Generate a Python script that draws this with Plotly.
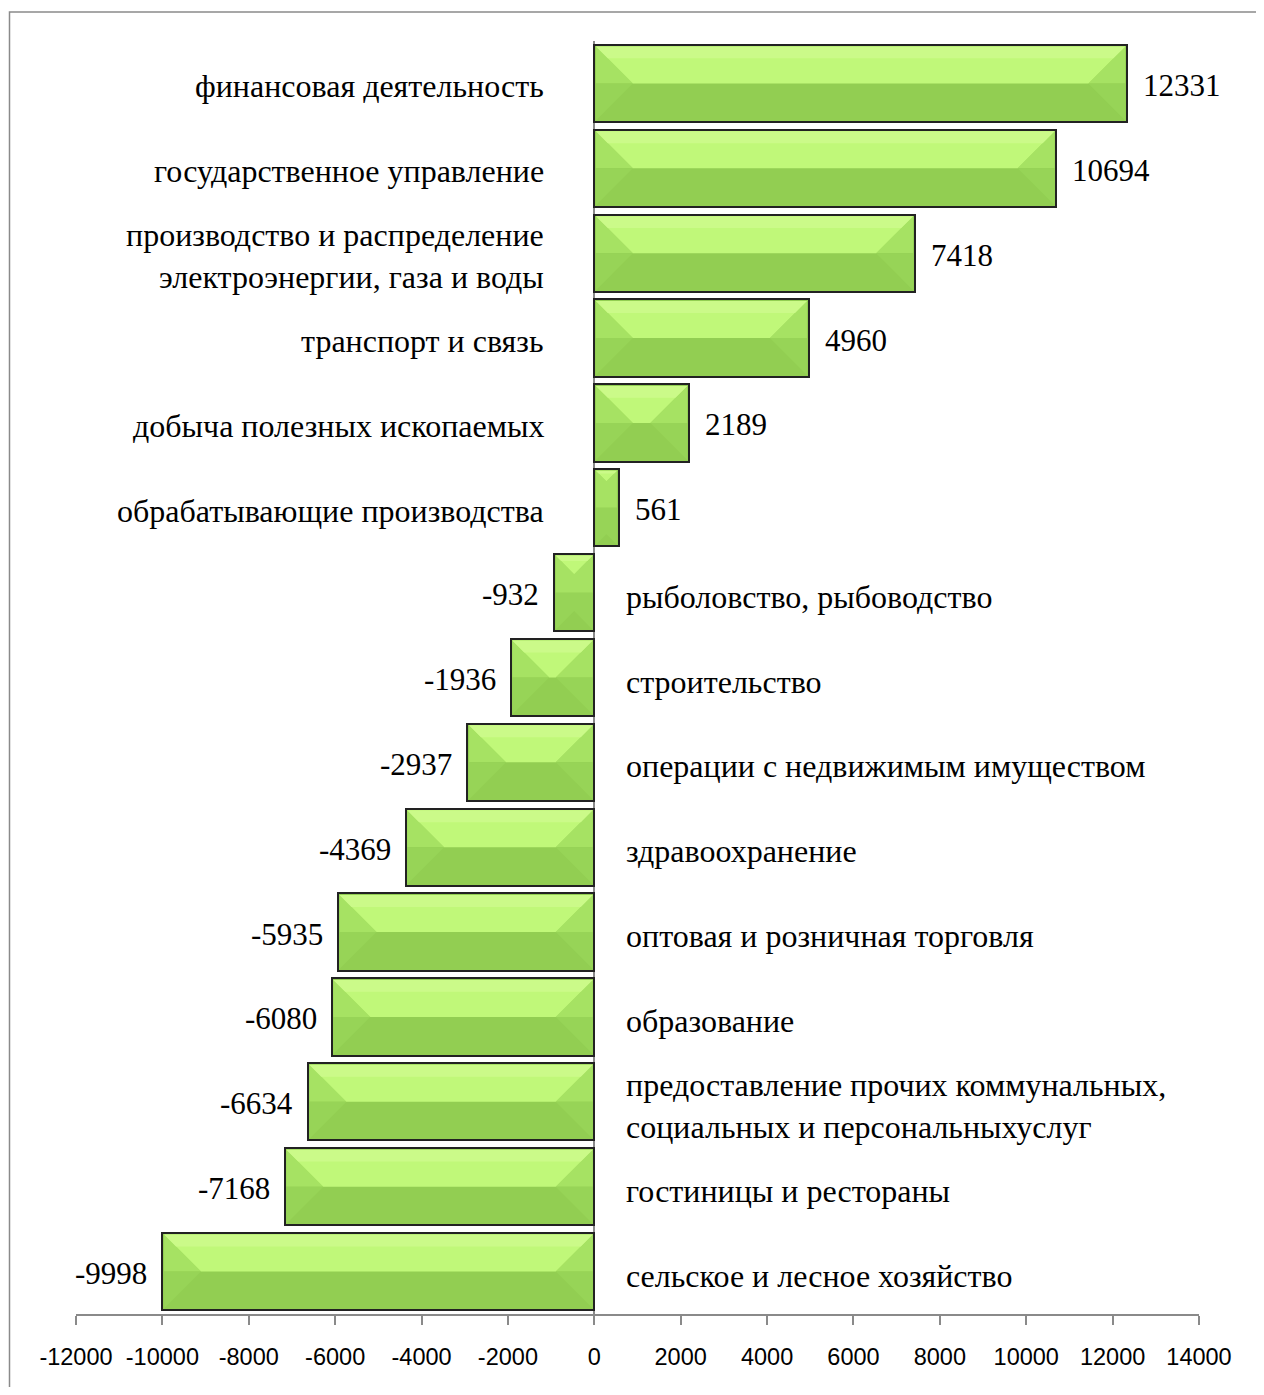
import plotly.graph_objects as go

# ---------------- data ----------------
categories = [
    "финансовая деятельность",
    "государственное управление",
    "производство и распределение<br>электроэнергии, газа и воды",
    "транспорт и связь",
    "добыча полезных ископаемых",
    "обрабатывающие производства",
    "рыболовство, рыбоводство",
    "строительство",
    "операции с недвижимым имуществом",
    "здравоохранение",
    "оптовая и розничная торговля",
    "образование",
    "предоставление прочих коммунальных,<br>социальных и персональныхуслуг",
    "гостиницы и рестораны",
    "сельское и лесное хозяйство",
]
values = [12331, 10694, 7418, 4960, 2189, 561, -932, -1936, -2937, -4369,
          -5935, -6080, -6634, -7168, -9998]
tick_values = list(range(-12000, 14001, 2000))
tick_labels = [str(t) for t in tick_values]

# ---------------- layout constants ----------------
W, H = 1248, 1379
ML, MR, MT, MB = 68, 57, 33, 73
XMIN, XMAX = -12000, 14000
n = len(values)
ypos = list(range(n - 1, -1, -1))          # top category first
BAR_W = 0.91
plot_w = W - ML - MR
plot_h = H - MT - MB
kx = plot_w / (XMAX - XMIN)                  # px per data unit (x)
ky = plot_h / n                              # px per category (y)

SERIF = "Liberation Serif, Times New Roman, serif"
SANS = "Liberation Sans, Arial, sans-serif"

fig = go.Figure()

# base bars (darker lower colour + outline)
fig.add_trace(go.Bar(
    x=values, y=ypos, orientation="h", width=BAR_W,
    marker=dict(color="#92CE52", line=dict(color="#222222", width=2)),
    hoverinfo="skip", showlegend=False,
))

# bevel facets derived from the bar values
groups = {"top": [], "hi": [], "side_up": [], "side_lo": [], "inner": []}
e = 1.6  # px inset to keep outline visible
for v, yc in zip(values, ypos):
    x0d, x1d = min(0, v), max(0, v)
    y0d, y1d = yc - BAR_W / 2, yc + BAR_W / 2
    w_px = abs(v) * kx
    hh_px = BAR_W * ky / 2
    d = min(hh_px, w_px / 2)
    ox0, ox1 = x0d + e / kx, x1d - e / kx
    oy0, oy1 = y0d + e / ky, y1d - e / ky
    ix0, ix1 = x0d + d / kx, x1d - d / kx
    iy0, iy1 = y0d + d / ky, y1d - d / ky
    ym = yc
    groups["top"] += [(ox0, oy1), (ox1, oy1), (ix1, iy1), (ix0, iy1), (ox0, oy1), None]
    # lighter highlight along the top edge
    hd = 0.35 * d
    hx0, hx1 = x0d + hd / kx, x1d - hd / kx
    hy = y1d - hd / ky
    groups["hi"] += [(ox0, oy1), (ox1, oy1), (hx1, hy), (hx0, hy), (ox0, oy1), None]
    # left side upper / lower
    groups["side_up"] += [(ox0, oy1), (ix0, iy1), (ix0, ym), (ox0, ym), (ox0, oy1), None]
    groups["side_lo"] += [(ox0, ym), (ix0, ym), (ix0, iy0), (ox0, oy0), (ox0, ym), None]
    # right side upper / lower
    groups["side_up"] += [(ox1, oy1), (ix1, iy1), (ix1, ym), (ox1, ym), (ox1, oy1), None]
    groups["side_lo"] += [(ox1, ym), (ix1, ym), (ix1, iy0), (ox1, oy0), (ox1, ym), None]
    if iy1 > iy0:
        groups["inner"] += [(ix0, iy1), (ix1, iy1), (ix1, iy0), (ix0, iy0), (ix0, iy1), None]

colors = {"top": "#C0F879", "hi": "#CBFA89", "side_up": "#A6E263",
          "side_lo": "#97D457", "inner": "#98D559"}
for key in ["side_up", "side_lo", "inner", "top", "hi"]:
    pts = groups[key]
    if not pts:
        continue
    xs = [p[0] if p else None for p in pts]
    ys = [p[1] if p else None for p in pts]
    fig.add_trace(go.Scatter(
        x=xs, y=ys, mode="lines", fill="toself", fillcolor=colors[key],
        line=dict(width=0, color=colors[key]), hoverinfo="skip", showlegend=False,
    ))

# labels
CAT_FONT = dict(family=SERIF, size=32, color="black")
VAL_FONT = dict(family=SERIF, size=31, color="black")
annotations = []
for cat, v, yc in zip(categories, values, ypos):
    if v >= 0:
        annotations.append(dict(x=0, y=yc, text=cat, xanchor="right", align="right",
                                xshift=-48, yshift=-3, showarrow=False, font=CAT_FONT))
        annotations.append(dict(x=v, y=yc, text=str(v), xanchor="left",
                                xshift=14, yshift=-2, showarrow=False, font=VAL_FONT))
    else:
        annotations.append(dict(x=0, y=yc, text=cat, xanchor="left", align="left",
                                xshift=30, yshift=-4, showarrow=False, font=CAT_FONT))
        annotations.append(dict(x=v, y=yc, text=str(v), xanchor="right",
                                xshift=-13, yshift=-2, showarrow=False, font=VAL_FONT))

fig.update_layout(
    width=W, height=H,
    margin=dict(l=ML, r=MR, t=MT, b=MB, pad=0),
    paper_bgcolor="white", plot_bgcolor="white",
    showlegend=False,
    bargap=0,
    annotations=annotations,
    xaxis=dict(
        range=[XMIN, XMAX], tickmode="array", tickvals=tick_values, ticktext=tick_labels,
        showgrid=False, zeroline=True, zerolinecolor="#8A8A8A", zerolinewidth=2,
        showline=True, linecolor="#8A8A8A", linewidth=2,
        ticks="outside", ticklen=9, tickwidth=2, tickcolor="#8A8A8A",
        ticklabelstandoff=12,
        tickfont=dict(family=SANS, size=23.5, color="black"),
        fixedrange=True,
    ),
    yaxis=dict(
        range=[-0.5, n - 0.5], showticklabels=False, showgrid=False,
        zeroline=False, showline=False, ticks="", fixedrange=True,
    ),
    shapes=[dict(
        type="rect", xref="paper", yref="paper",
        x0=(1.5 - ML) / plot_w, x1=1.2,
        y0=-0.2, y1=(H - MB - 4) / plot_h,
        line=dict(color="#8A8A8A", width=1.5), fillcolor="rgba(0,0,0,0)", layer="below",
    )],
)

fig.write_html("out.html")
